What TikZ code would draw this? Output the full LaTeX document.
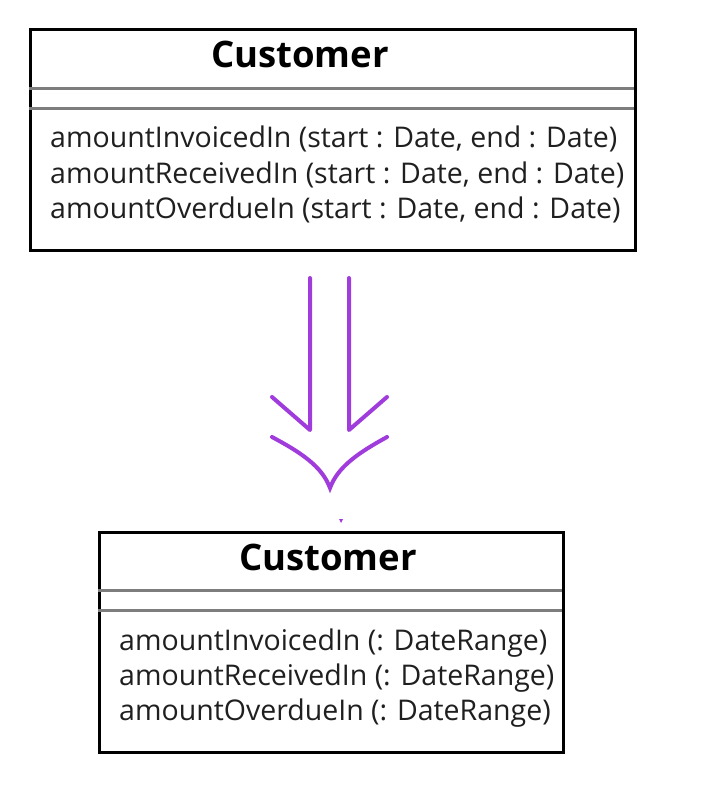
\documentclass[tikz,border=0pt]{standalone}
\usepackage{fontspec}
\setmainfont{Open Sans}
\definecolor{arrowpurple}{RGB}{160,60,220}
\definecolor{rulegrey}{RGB}{125,125,125}
\begin{document}
\begin{tikzpicture}[x=1pt,y=-1pt,
  classbox/.style={draw=black,line width=3pt,inner sep=0pt,anchor=north west},
  seprule/.style={draw=rulegrey,line width=3pt},
  classname/.style={font=\fontsize{36.5}{42}\selectfont\bfseries,anchor=base,inner sep=0pt},
  operation/.style={font=\fontsize{28.5}{34}\selectfont,anchor=base west,inner sep=0pt,text=black!88},
  refine/.style={draw=arrowpurple,line width=4pt,line cap=round,line join=round}]
\useasboundingbox (0,0) rectangle (704,792);

% original class
\node[classbox,minimum width=605pt,minimum height=221pt] (before) at (29,28) {};
\draw[seprule] (29,88) -- (634,88);
\draw[seprule] (29,108) -- (634,108);
\node[classname] (beforename) at (300,67) {Customer};
\node[operation] (b1) at (50,147) {amountInvoicedIn (start : Date, end : Date)};
\node[operation] (b2) at (50,183) {amountReceivedIn (start : Date, end : Date)};
\node[operation] (b3) at (50,218) {amountOverdueIn (start : Date, end : Date)};

% refined class
\node[classbox,minimum width=464pt,minimum height=220pt] (after) at (98,531) {};
\draw[seprule] (98,590) -- (562,590);
\draw[seprule] (98,610) -- (562,610);
\node[classname] (aftername) at (328,570) {Customer};
\node[operation] (a1) at (119,650) {amountInvoicedIn (: DateRange)};
\node[operation] (a2) at (119,685) {amountReceivedIn (: DateRange)};
\node[operation] (a3) at (119,720) {amountOverdueIn (: DateRange)};

% refactoring arrow
\coordinate (ltop) at (310,278);
\coordinate (lbot) at (310,430);
\coordinate (rtop) at (349,278);
\coordinate (rbot) at (349,430);
\draw[refine] (ltop) -- (lbot) -- (272,397);
\draw[refine] (rtop) -- (rbot) -- (387,397);
\coordinate (tip) at (330,488);
\draw[refine,line join=miter] (272,437) .. controls (300,452) and (322,466) .. (tip)
  .. controls (338,466) and (360,452) .. (387,437);
\fill[arrowpurple] (339,519) -- (343,519) -- (341,523) -- cycle;
\end{tikzpicture}
\end{document}
